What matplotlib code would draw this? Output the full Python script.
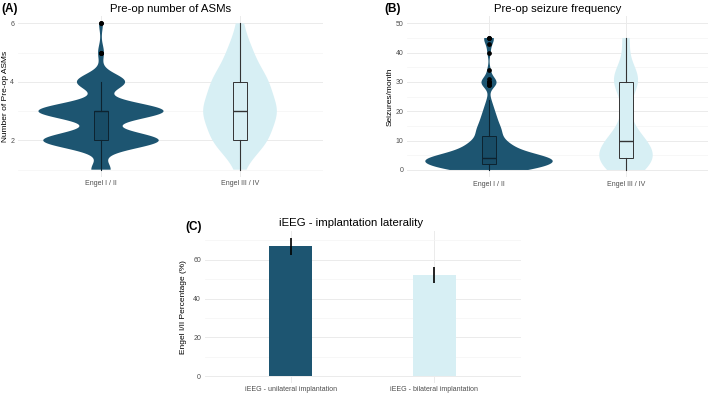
import numpy as np
import matplotlib.pyplot as plt

plt.rcParams['font.family'] = ['Liberation Sans', 'DejaVu Sans']

DARK = '#1d5571'
DARK_BOX = '#184c66'
LIGHT = '#d7eff4'

W, H = 709, 396

groups = ['Engel I / II', 'Engel III / IV']

# (A) pre-op number of ASMs: value -> number of patients
asm_values = [1, 2, 3, 4, 5, 6]
asm_counts_good = [10, 60, 65, 25, 3, 2]
asm_counts_poor = [1, 9, 12, 9, 4, 1]

# (B) pre-op seizures/month: value -> number of patients (Engel I/II)
sz_values_good = [0, 1, 2, 3, 4, 5, 6, 7, 8, 9, 10, 11, 12, 13, 14, 15, 16,
                  17, 18, 19, 20, 21, 22, 24, 29, 30, 31, 34, 40, 43, 45]
sz_counts_good = [11, 11, 11, 10, 19, 5, 7, 5, 4, 4, 3, 2, 2, 3, 2, 2, 2,
                  1, 2, 1, 1, 1, 1, 1, 2, 3, 1, 1, 1, 1, 3]
sz_poor = [0, 1, 2, 4, 4, 4, 6, 8, 10, 10, 12, 20, 30, 30, 30, 35, 45]

# (C) Engel I/II percentage by implantation laterality
laterality = ['iEEG - unilateral implantation', 'iEEG - bilateral implantation']
engel_pct = [67.0, 52.2]
engel_err = [4.3, 4.1]


def px_axes(fig, x0, x1, y0, y1):
    """axes from pixel box (y measured from top)"""
    return fig.add_axes([x0 / W, 1 - y1 / H, (x1 - x0) / W, (y1 - y0) / H])


def style_axes(ax, major, minor, ylim):
    ax.set_xlim(0.4, 2.6)
    ax.set_ylim(*ylim)
    ax.set_yticks(major)
    ax.set_yticks(minor, minor=True)
    ax.set_xticks([1, 2])
    for s in ax.spines.values():
        s.set_visible(False)
    ax.grid(True, which='major', color='#ebebeb', lw=0.7)
    ax.grid(True, which='minor', axis='y', color='#f4f4f4', lw=0.5)
    ax.set_axisbelow(True)
    ax.tick_params(which='both', length=0, labelsize=5, labelcolor='#4d4d4d', pad=2.5)


def set_ylabel(ax, text, xpos):
    ax.set_ylabel(text, fontsize=6)
    ax.yaxis.label.set_va('center')
    ax.yaxis.set_label_coords(xpos, 0.5)


def violin_box(ax, data, bws, widths, fills, box_fills, edge_cols):
    for i, d in enumerate(data):
        d = np.asarray(d, float)
        vp = ax.violinplot(d, positions=[i + 1], widths=widths[i], showextrema=False,
                           bw_method=bws[i] / d.std(ddof=1), points=400)
        for b in vp['bodies']:
            b.set_facecolor(fills[i])
            b.set_edgecolor('none')
            b.set_alpha(1)
        ec = edge_cols[i]
        ax.boxplot(d, positions=[i + 1], widths=0.1, patch_artist=True,
                   boxprops=dict(facecolor=box_fills[i], edgecolor=ec, lw=0.7),
                   medianprops=dict(color=ec, lw=1.0),
                   whiskerprops=dict(color=ec, lw=0.8),
                   capprops=dict(lw=0),
                   flierprops=dict(marker='o', markersize=2.4, markerfacecolor='black',
                                   markeredgecolor='black'))


fig = plt.figure(figsize=(W / 100, H / 100), dpi=100)

# ---- (A)
axA = px_axes(fig, 17.6, 323.4, 16, 177)
asm_good = np.repeat(asm_values, asm_counts_good)
asm_poor = np.repeat(asm_values, asm_counts_poor)
violin_box(axA, [asm_good, asm_poor], [0.27, 0.55], [0.9, 0.53],
           [DARK, LIGHT], [DARK_BOX, LIGHT], ['#0d2330', '#333333'])
style_axes(axA, [2, 4, 6], [1, 3, 5], (0.75, 6.25))
axA.set_xticklabels(groups)
set_ylabel(axA, 'Number of Pre-op ASMs', -0.039)

# ---- (B)
axB = px_axes(fig, 406.8, 708.2, 16, 177.3)
sz_good = np.repeat(sz_values_good, sz_counts_good)
violin_box(axB, [sz_good, sz_poor], [1.7, 4.6], [0.93, 0.39],
           [DARK, LIGHT], [DARK_BOX, LIGHT], ['#0d2330', '#333333'])
style_axes(axB, [0, 10, 20, 30, 40, 50], [5, 15, 25, 35, 45], (-2.5, 52.5))
axB.set_xticklabels(groups)
set_ylabel(axB, 'Seizures/month', -0.056)

# ---- (C)
axC = px_axes(fig, 204.5, 520.5, 231, 383)
axC.bar([1, 2], engel_pct, width=0.3, color=[DARK, LIGHT], zorder=2)
axC.errorbar([1, 2], engel_pct, yerr=engel_err, fmt='none', ecolor='black',
             elinewidth=1.2, capsize=0, zorder=3)
style_axes(axC, [0, 20, 40, 60], [10, 30, 50, 70], (-3.6, 74.9))
axC.set_xticklabels(laterality)
set_ylabel(axC, 'Engel I/II Percentage (%)', -0.068)

# titles and panel letters
title_kw = dict(fontsize=8.2, ha='center', va='center')
fig.text(170.5 / W, 1 - 9 / H, 'Pre-op number of ASMs', **title_kw)
fig.text(557.5 / W, 1 - 9 / H, 'Pre-op seizure frequency', **title_kw)
fig.text(351 / W, 1 - 223 / H, 'iEEG - implantation laterality', **title_kw)
lab_kw = dict(fontsize=8.5, fontweight='bold', ha='left', va='center')
fig.text(1.5 / W, 1 - 9 / H, '(A)', **lab_kw)
fig.text(384 / W, 1 - 9 / H, '(B)', **lab_kw)
fig.text(185 / W, 1 - 227 / H, '(C)', **lab_kw)

fig.savefig('out.png', dpi=100)
